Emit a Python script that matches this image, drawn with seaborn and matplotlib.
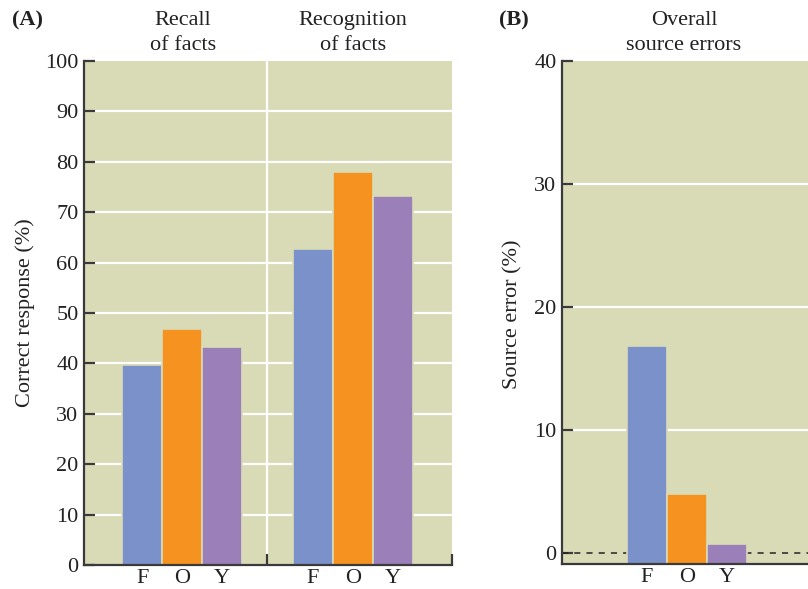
import matplotlib
matplotlib.use('Agg')
import matplotlib.pyplot as plt
import pandas as pd
import seaborn as sns

# values
groups = ['F', 'O', 'Y']
recall = [39.6, 46.9, 43.3]
recognition = [62.8, 77.9, 73.2]
source_errors = [16.8, 4.8, 0.7]
panel_a_titles = ['Recall\nof facts', 'Recognition\nof facts']
panel_b_title = 'Overall\nsource errors'

colors = ['#7b91c9', '#f6921f', '#9b7fb9']
bg = '#d9dbb7'
ink = '#3a3a3a'
txt = '#222222'
fs = 16

sns.set_theme(style='white')
plt.rcParams['font.family'] = ['Liberation Serif', 'DejaVu Serif']
plt.rcParams['font.size'] = fs

df_a = pd.DataFrame({'task': ['recall'] * 3 + ['recognition'] * 3,
                     'group': groups * 2,
                     'pct': recall + recognition})
df_b = pd.DataFrame({'task': ['overall'] * 3, 'group': groups, 'pct': source_errors})

fig = plt.figure(figsize=(8.08, 5.89), dpi=100)
ax1 = fig.add_axes([0.104, 0.0407, 0.4555, 0.8557])
ax2 = fig.add_axes([0.6955, 0.0429, 0.3045, 0.8535])


def style(ax):
    ax.set_facecolor(bg)
    for s in ['top', 'right']:
        ax.spines[s].set_visible(False)
    for s in ['left', 'bottom']:
        ax.spines[s].set_color(ink)
        ax.spines[s].set_linewidth(1.6)
    ax.tick_params(axis='y', direction='in', length=8, width=1.6, color=ink,
                   labelsize=fs, labelcolor=txt, pad=4, left=True)
    ax.tick_params(axis='x', which='major', length=0, pad=3,
                   labelsize=fs, labelcolor=txt)
    ax.set_xlabel('')
    ax.set_ylabel('')


def fix_xticks(ax, labels):
    centers = sorted(p.get_x() + p.get_width() / 2 for p in ax.patches)
    ax.set_xticks(centers)
    ax.set_xticklabels(labels)


# Panel A
sns.barplot(data=df_a, x='task', y='pct', hue='group', palette=colors,
            saturation=1, width=0.7, gap=0, edgecolor=bg, linewidth=1.2,
            legend=False, ax=ax1, zorder=2)
style(ax1)
ax1.set_xlim(-0.573, 1.58)
ax1.set_ylim(0, 100)
ax1.set_yticks(range(0, 101, 10))
for y in range(10, 100, 10):
    ax1.axhline(y, color='white', lw=1.6, zorder=0.5)
ax1.axvline(0.5, color='white', lw=1.6, zorder=0.5)
fix_xticks(ax1, groups * 2)
ax1.set_xticks([0.5, 1.58], minor=True)
ax1.tick_params(axis='x', which='minor', direction='in', length=8, width=1.6,
                color=ink, bottom=True)

# Panel B
sns.barplot(data=df_b, x='task', y='pct', hue='group', palette=colors,
            saturation=1, width=0.7, gap=0, edgecolor=bg, linewidth=1.2,
            legend=False, ax=ax2, zorder=2)
style(ax2)
ybot = -0.9
for p in ax2.patches:
    p.set_y(ybot)
    p.set_height(p.get_height() - ybot)
ax2.set_xlim(-0.731, 0.708)
ax2.set_ylim(ybot, 40)
ax2.set_yticks([0, 10, 20, 30, 40])
for y in [10, 20, 30]:
    ax2.axhline(y, color='white', lw=1.6, zorder=0.5)
ax2.axhline(0, color='#222222', lw=1.1, ls=(0, (4, 4)), zorder=0.8)
fix_xticks(ax2, groups)

# text
fig.text(12 / 808, 1 - 20 / 589, '(A)', fontweight='bold', va='center', ha='left',
         fontsize=fs, color=txt)
fig.text(499 / 808, 1 - 20 / 589, '(B)', fontweight='bold', va='center', ha='left',
         fontsize=fs, color=txt)
for xc, t in zip([183, 353], panel_a_titles):
    fig.text(xc / 808, 1 - 33 / 589, t, ha='center', va='center', fontsize=fs,
             color=txt, linespacing=1.4)
fig.text(684 / 808, 1 - 33 / 589, panel_b_title, ha='center', va='center',
         fontsize=fs, color=txt, linespacing=1.4)
fig.text(25 / 808, 1 - 313 / 589, 'Correct response (%)', rotation=90,
         ha='center', va='center', fontsize=fs, color=txt)
fig.text(513 / 808, 1 - 314 / 589, 'Source error (%)', rotation=90,
         ha='center', va='center', fontsize=fs, color=txt)

fig.savefig('out.png', dpi=100)
